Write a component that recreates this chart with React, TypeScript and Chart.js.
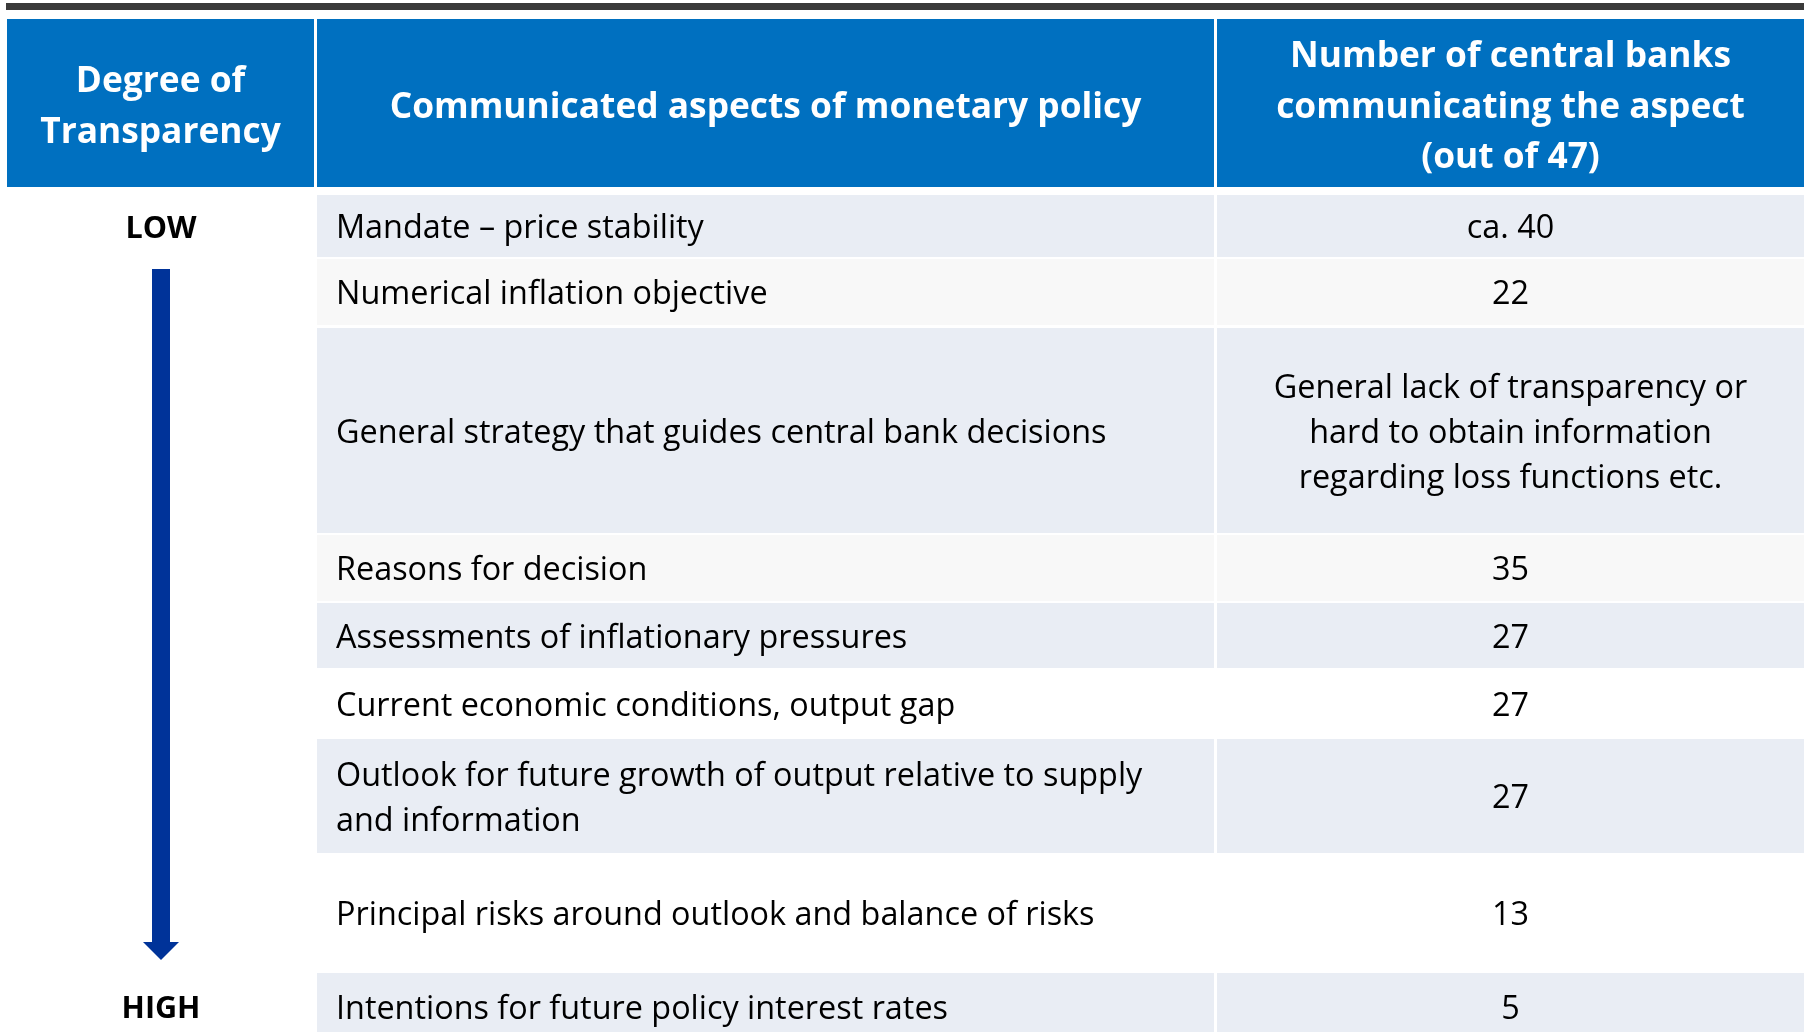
import { useEffect, useRef } from "react";
import { Chart, registerables } from "chart.js";

Chart.register(...registerables);

// ---------- DATA ----------
const headerLabels = [
  "Degree of\nTransparency",
  "Communicated aspects of monetary policy",
  "Number of central banks\ncommunicating the aspect\n(out of 47)",
];

const aspects = [
  "Mandate \u2013 price stability",
  "Numerical inflation objective",
  "General strategy that guides central bank decisions",
  "Reasons for decision",
  "Assessments of inflationary pressures",
  "Current economic conditions, output gap",
  "Outlook for future growth of output relative to supply\nand information",
  "Principal risks around outlook and balance of risks",
  "Intentions for future policy interest rates",
];

const bankCounts = [
  "ca. 40",
  "22",
  "General lack of transparency or\nhard to obtain information\nregarding loss functions etc.",
  "35",
  "27",
  "27",
  "27",
  "13",
  "5",
];

const scaleEnds = ["LOW", "HIGH"];

// ---------- LAYOUT / STYLE ----------
const W = 1804;
const H = 1032;
const FONT = '"Open Sans", "Noto Sans", sans-serif';
const BODY_LINE = 45;
const HEADER_LINE = 50.5;
const BODY_SHIFT = 3;
const BODY_FIT = { text: "General strategy that guides central bank decisions", width: 771 };
const HEADER_FIT = { text: "Communicated aspects of monetary policy", width: 752 };
const LABEL_FIT = { text: "HIGH", width: 79 };
const COLS: [number, number][] = [
  [7, 314],
  [317, 1214],
  [1217, 1804],
];
const HEADER_BOX = { top: 19, bottom: 187 };
const ROW_TOPS = [195, 259, 328, 535, 603, 670, 739, 855, 973];
const ROW_BOTTOMS = [257, 325, 533, 601, 668, 737, 853, 971, 1040];
const ROW_FILLS = ["#E9EDF4", "#F8F8F8", "#E9EDF4", "#F8F8F8", "#E9EDF4", "#FFFFFF", "#E9EDF4", "#FFFFFF", "#E9EDF4"];
const HEADER_BLUE = "#0070C0";
const ARROW_BLUE = "#003399";
const TEXT_PAD = 19;

function fitSize(ctx: CanvasRenderingContext2D, weight: string, fit: { text: string; width: number }) {
  ctx.font = `${weight} 100px ${FONT}`;
  const w = ctx.measureText(fit.text).width;
  return (100 * fit.width) / w;
}

function drawLines(ctx: CanvasRenderingContext2D, text: string, x: number, cy: number, lh: number) {
  const lines = text.split("\n");
  const start = cy - ((lines.length - 1) * lh) / 2;
  lines.forEach((l, i) => ctx.fillText(l, x, start + i * lh));
}

const tablePlugin = {
  id: "tablePlugin",
  afterDraw(chart: any) {
    const ctx: CanvasRenderingContext2D = chart.ctx;
    ctx.save();
    const bodySize = fitSize(ctx, "normal", BODY_FIT);
    const headerSize = fitSize(ctx, "bold", HEADER_FIT);
    const labelSize = fitSize(ctx, "bold", LABEL_FIT);

    ctx.fillStyle = "#FFFFFF";
    ctx.fillRect(0, 0, W, H);

    // top rule
    ctx.fillStyle = "#3A3A3A";
    ctx.fillRect(6, 3, W - 6, 7);

    // header
    ctx.textBaseline = "middle";
    ctx.textAlign = "center";
    ctx.font = `bold ${headerSize}px ${FONT}`;
    const hcy = (HEADER_BOX.top + HEADER_BOX.bottom) / 2 + 4.5;
    COLS.forEach(([x0, x1], i) => {
      ctx.fillStyle = HEADER_BLUE;
      ctx.fillRect(x0, HEADER_BOX.top, x1 - x0, HEADER_BOX.bottom - HEADER_BOX.top);
      ctx.fillStyle = "#FFFFFF";
      drawLines(ctx, headerLabels[i], (x0 + x1) / 2, hcy, HEADER_LINE);
    });

    // rows
    ctx.font = `${bodySize}px ${FONT}`;
    aspects.forEach((a, r) => {
      const top = ROW_TOPS[r];
      const bot = ROW_BOTTOMS[r];
      const cy = (top + bot) / 2 + BODY_SHIFT;
      for (let c = 1; c < 3; c++) {
        const [x0, x1] = COLS[c];
        ctx.fillStyle = ROW_FILLS[r];
        ctx.fillRect(x0, top, x1 - x0, bot - top);
      }
      ctx.fillStyle = "#000000";
      ctx.textAlign = "left";
      drawLines(ctx, a, COLS[1][0] + TEXT_PAD, cy, BODY_LINE);
      ctx.textAlign = "center";
      drawLines(ctx, bankCounts[r], (COLS[2][0] + COLS[2][1]) / 2, cy, BODY_LINE);
    });

    // LOW / HIGH and arrow
    const c1 = (COLS[0][0] + COLS[0][1]) / 2 + 0.5;
    ctx.font = `bold ${labelSize}px ${FONT}`;
    ctx.fillStyle = "#000000";
    ctx.textAlign = "center";
    const lowY = (ROW_TOPS[0] + ROW_BOTTOMS[0]) / 2 + BODY_SHIFT;
    const highY = (ROW_TOPS[8] + ROW_BOTTOMS[8]) / 2 + BODY_SHIFT;
    ctx.fillText(scaleEnds[0], c1, lowY);
    ctx.fillText(scaleEnds[1], c1, highY);

    const shaftTop = ROW_TOPS[1] + 10;
    const headTop = ROW_BOTTOMS[7] - 29;
    const tip = ROW_TOPS[8] - 13;
    ctx.fillStyle = ARROW_BLUE;
    ctx.fillRect(c1 - 9, shaftTop, 18, headTop - shaftTop);
    ctx.beginPath();
    ctx.moveTo(c1 - 18, headTop);
    ctx.lineTo(c1 + 18, headTop);
    ctx.lineTo(c1, tip);
    ctx.closePath();
    ctx.fill();
    ctx.restore();
  },
};

export default function App() {
  const ref = useRef<HTMLCanvasElement | null>(null);
  useEffect(() => {
    document.body.style.margin = "0";
    document.body.style.overflow = "hidden";
    const canvas = ref.current!;
    const chart = new Chart(canvas, {
      type: "bar",
      data: {
        labels: aspects,
        datasets: [{ label: "Central banks", data: [], backgroundColor: "transparent" }],
      },
      options: {
        animation: false,
        responsive: false,
        maintainAspectRatio: false,
        devicePixelRatio: 1,
        layout: { padding: 0 },
        plugins: { legend: { display: false }, tooltip: { enabled: false } },
        scales: { x: { display: false }, y: { display: false } },
      },
      plugins: [tablePlugin],
    });
    return () => chart.destroy();
  }, []);
  return (
    <div style={{ width: W, height: H }}>
      <canvas ref={ref} width={W} height={H} style={{ width: W, height: H, display: "block" }} />
    </div>
  );
}
